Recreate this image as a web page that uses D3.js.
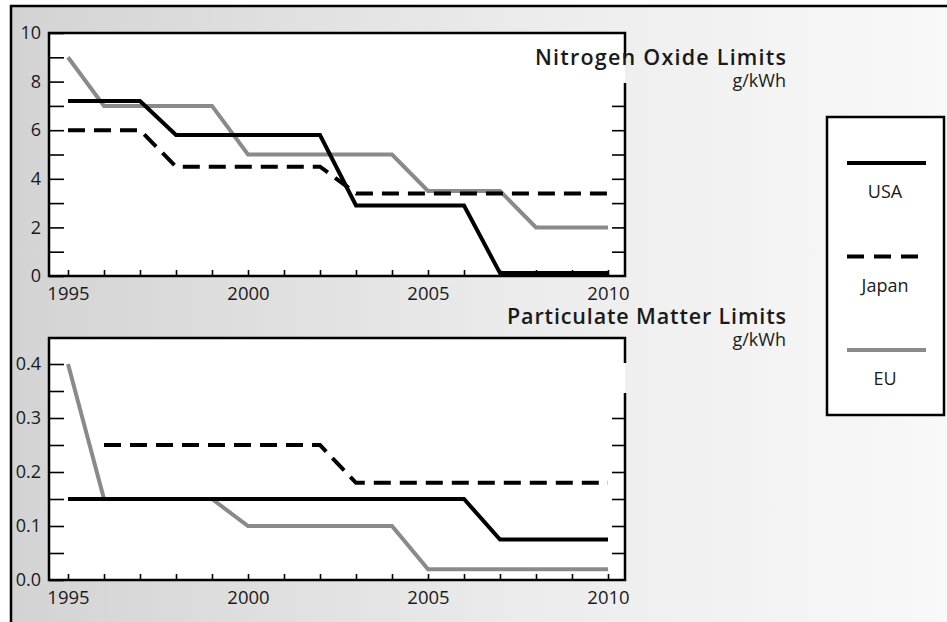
<!DOCTYPE html>
<html>
<head>
<meta charset="utf-8">
<script src="https://cdn.jsdelivr.net/npm/d3@7"></script>
<style>
  body { margin: 0; background: #fff; }
  text { font-family: "Open Sans", "DejaVu Sans", sans-serif; fill: #1a1a1a; }
</style>
</head>
<body>
<div id="chart"></div>
<script>
// data: [year, g/kWh]
var noxUSA   = [[1995, 7.2], [1997, 7.2], [1998, 5.8], [2002, 5.8], [2003, 2.9], [2006, 2.9], [2007, 0.12], [2010, 0.12]];
var noxJapan = [[1995, 6.0], [1997, 6.0], [1998, 4.5], [2002, 4.5], [2003, 3.4], [2010, 3.4]];
var noxEU    = [[1995, 9.0], [1996, 7.0], [1999, 7.0], [2000, 5.0], [2004, 5.0], [2005, 3.5], [2007, 3.5], [2008, 2.0], [2010, 2.0]];

var pmUSA   = [[1995, 0.15], [2006, 0.15], [2007, 0.075], [2010, 0.075]];
var pmJapan = [[1996, 0.25], [2002, 0.25], [2003, 0.18], [2010, 0.18]];
var pmEU    = [[1995, 0.4], [1996, 0.15], [1999, 0.15], [2000, 0.1], [2004, 0.1], [2005, 0.02], [2010, 0.02]];

var yearTicks = d3.range(1995, 2011);
var yearLabels = [1995, 2000, 2005, 2010];
var noxTicks = d3.range(0, 11);
var pmTicks = d3.range(0, 0.401, 0.05);

var countries = ["USA", "Japan", "EU"];

var svgWidth = 947;
var svgHeight = 622;

var svg = d3.select("#chart")
  .append("svg")
  .attr("width", svgWidth)
  .attr("height", svgHeight);

// background gradient, grey on the left fading to near white
var grad = svg.append("defs").append("linearGradient")
  .attr("id", "bg")
  .attr("x1", "0").attr("x2", "1").attr("y1", "0").attr("y2", "0");
grad.append("stop").attr("offset", "0").attr("stop-color", "#d3d3d3");
grad.append("stop").attr("offset", "0.55").attr("stop-color", "#ececec");
grad.append("stop").attr("offset", "1").attr("stop-color", "#f9f9f9");

svg.append("rect")
  .attr("x", 11).attr("y", 6)
  .attr("width", svgWidth).attr("height", svgHeight)
  .attr("fill", "url(#bg)");

// outer frame: only left and top edges are visible
svg.append("path")
  .attr("d", `M11,${svgHeight} V6 H${svgWidth}`)
  .attr("fill", "none")
  .attr("stroke", "#000")
  .attr("stroke-width", 2.5);

var left = 49, right = 625;
var x = d3.scaleLinear().domain([1995, 2010]).range([68, 608]);

function drawPanel(opt) {
  var y = d3.scaleLinear().domain(opt.domain).range([opt.bottom, opt.yTop]);
  var g = svg.append("g");

  g.append("rect")
    .attr("x", left).attr("y", opt.top)
    .attr("width", right - left).attr("height", opt.bottom - opt.top)
    .attr("fill", "#fff");

  // frame with a gap on the right where the title sits
  g.append("path")
    .attr("d", `M${right},${opt.gap[0]} V${opt.top} H${left} V${opt.bottom} H${right} V${opt.gap[1]}`)
    .attr("fill", "none")
    .attr("stroke", "#000")
    .attr("stroke-width", 2.5);

  // left axis, ticks pointing inward
  var yAxis = d3.axisLeft(y)
    .tickValues(opt.ticks)
    .tickSizeInner(-15)
    .tickSizeOuter(0)
    .tickPadding(8)
    .tickFormat(opt.fmt);
  var ya = g.append("g")
    .attr("transform", `translate(${left},0)`)
    .call(yAxis);
  ya.select(".domain").remove();
  ya.selectAll("line").attr("stroke-width", 1.6);
  ya.selectAll("text").attr("font-size", 18);

  // right axis, ticks only, hidden behind the title
  var ra = g.append("g")
    .attr("transform", `translate(${right},0)`)
    .call(d3.axisRight(y).tickValues(opt.rightTicks).tickSizeInner(-13).tickSizeOuter(0).tickFormat(""));
  ra.select(".domain").remove();
  ra.selectAll("line").attr("stroke-width", 1.6);

  // bottom axis
  var xa = g.append("g")
    .attr("transform", `translate(0,${opt.bottom})`)
    .call(d3.axisBottom(x)
      .tickValues(yearTicks)
      .tickSizeInner(-6)
      .tickSizeOuter(0)
      .tickPadding(11)
      .tickFormat(d => yearLabels.includes(d) ? d : ""));
  xa.select(".domain").remove();
  xa.selectAll("line").attr("stroke-width", 1.6);
  xa.selectAll("text").attr("font-size", 18.5);

  var line = d3.line().x(d => x(d[0])).y(d => y(d[1]));

  g.append("path").datum(opt.eu)
    .attr("d", line).attr("fill", "none")
    .attr("stroke", "#8a8a8a").attr("stroke-width", 4);
  g.append("path").datum(opt.usa)
    .attr("d", line).attr("fill", "none")
    .attr("stroke", "#000").attr("stroke-width", 4);
  g.append("path").datum(opt.japan)
    .attr("d", line).attr("fill", "none")
    .attr("stroke", "#000").attr("stroke-width", 4)
    .attr("stroke-dasharray", "17,9");

  g.append("text")
    .attr("x", 786).attr("y", opt.titleY)
    .attr("text-anchor", "end")
    .attr("font-size", 21.5)
    .attr("font-weight", 600)
    .attr("textLength", opt.titleWidth)
    .attr("lengthAdjust", "spacing")
    .text(opt.title);
  g.append("text")
    .attr("x", 786).attr("y", opt.titleY + 22)
    .attr("text-anchor", "end")
    .attr("font-size", 18)
    .text("g/kWh");
}

drawPanel({
  top: 33, bottom: 276, yTop: 33, domain: [0, 10],
  gap: [58, 83],
  ticks: noxTicks,
  rightTicks: noxTicks.filter(d => d > 0 && d < 8),
  fmt: d => d % 2 === 0 ? d : "",
  usa: noxUSA, japan: noxJapan, eu: noxEU,
  title: "Nitrogen Oxide Limits", titleY: 65, titleWidth: 251
});

drawPanel({
  top: 338, bottom: 580, yTop: 364, domain: [0, 0.4],
  gap: [363, 393],
  ticks: pmTicks,
  rightTicks: pmTicks.filter(d => d > 0.01 && d < 0.33),
  fmt: d => Math.round(d * 100) % 10 === 0 ? d3.format(".1f")(d) : "",
  usa: pmUSA, japan: pmJapan, eu: pmEU,
  title: "Particulate Matter Limits", titleY: 324, titleWidth: 279
});

// legend
var legend = svg.append("g");
legend.append("rect")
  .attr("x", 827).attr("y", 117)
  .attr("width", 117).attr("height", 298)
  .attr("fill", "#fff")
  .attr("stroke", "#000")
  .attr("stroke-width", 2.5);

var legendStyle = {
  USA:   { color: "#000", dash: null },
  Japan: { color: "#000", dash: "17,10" },
  EU:    { color: "#8a8a8a", dash: null }
};

var ly = d3.scalePoint().domain(countries).range([163, 350]);

countries.forEach(c => {
  legend.append("line")
    .attr("x1", 847).attr("x2", 926)
    .attr("y1", ly(c)).attr("y2", ly(c))
    .attr("stroke", legendStyle[c].color)
    .attr("stroke-width", 4)
    .attr("stroke-dasharray", legendStyle[c].dash);
  legend.append("text")
    .attr("x", 885).attr("y", ly(c) + 35)
    .attr("text-anchor", "middle")
    .attr("font-size", 18)
    .text(c);
});
</script>
</body>
</html>
